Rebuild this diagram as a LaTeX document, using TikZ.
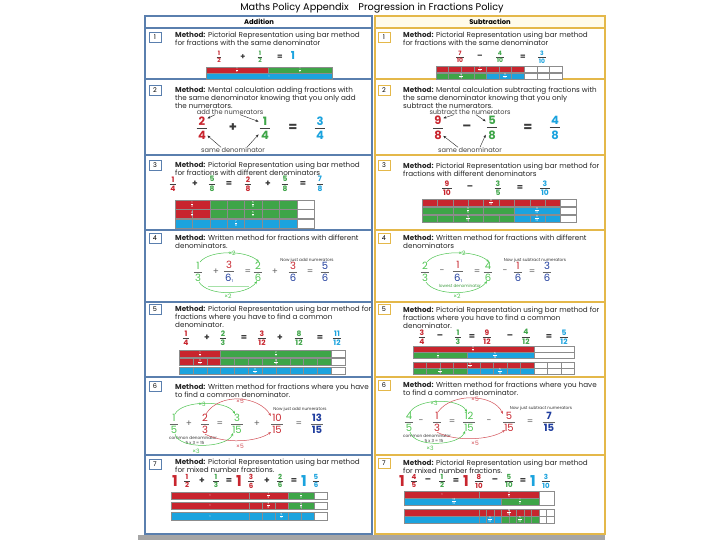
\documentclass[tikz,border=0pt]{standalone}
\usepackage{fontspec}
\setmainfont{Poppins}
\usetikzlibrary{arrows.meta}
\definecolor{fred}{HTML}{C8252E}
\definecolor{fgreen}{HTML}{3EA548}
\definecolor{fblue}{HTML}{1BA3DE}
\definecolor{fdblue}{HTML}{1F3D9E}
\definecolor{flgreen}{HTML}{4DC450}
\definecolor{lborder}{HTML}{5A7FAE}
\definecolor{rborder}{HTML}{E4B84A}
\definecolor{subfill}{HTML}{FFFBEA}
\definecolor{opgray}{HTML}{3A3A3A}
\newcommand\Fr[4]{\vbox{\offinterlineskip\halign{\hfil\kern0.12em##\kern0.12em\hfil\cr\textcolor{#1}{#2}\cr\noalign{\kern0.22em\hrule height0.07em\kern0.22em}\textcolor{#3}{#4}\cr}}}
\newcommand\blk[5]{\filldraw[fill=#5,draw=black!45,line width=0.25pt] (#1,#2) rectangle ++(#3,#4);}
\newcommand\segs[6]{\foreach \k in {1,...,#5}{\filldraw[fill=#6,draw=black!45,line width=0.25pt] ({#1+(\k-1)*(#3)},#2) rectangle ++(#3,#4);}}
\begin{document}
\begin{tikzpicture}[x=1pt,y=-1pt,
  cellL/.style={draw=lborder,line width=1.3pt},
  cellR/.style={draw=rborder,line width=1.3pt},
  numL/.style={draw=lborder,line width=0.7pt,minimum width=12pt,minimum height=10pt,inner sep=0pt,font=\fontsize{6.5}{6.5}\selectfont},
  numR/.style={numL,draw=rborder},
  meth/.style={anchor=north west,align=left,inner sep=0pt,font=\fontsize{7.2}{8}\selectfont,text=black!85},
  fr/.style={inner sep=0pt,text=black!75,font=\fontsize{#1}{#1}\selectfont\bfseries},
  hw/.style={inner sep=0pt,text=black!60,font=\fontsize{#1}{#1}\selectfont},
  opr/.style={inner sep=0pt,text=opgray,font=\fontsize{#1}{#1}\selectfont\bfseries},
  lbl/.style={inner sep=0pt,text=black!75,font=\fontsize{6.6}{7}\selectfont},
  tl/.style={inner sep=0pt,text=black!80,font=\fontsize{4.2}{4.5}\selectfont},
  barl/.style={inner sep=0pt,text=white,font=\fontsize{2.8}{3}\selectfont},
  arr/.style={-{Stealth[length=3pt,width=2.4pt]},line width=0.4pt,black!85},
  garr/.style={-{Stealth[length=3pt,width=2.4pt]},line width=0.5pt,flgreen},
  rarr/.style={-{Stealth[length=3pt,width=2.4pt]},line width=0.5pt,fred!80},
]
\useasboundingbox (0,0) rectangle (720,540);
\fill[white] (0,0) rectangle (720,540);
% title and headers
\node[inner sep=0pt,font=\fontsize{9.7}{10}\selectfont] (title) at (372,8) {Maths Policy Appendix\quad Progression in Fractions Policy};
\draw[cellL] (145,16) rectangle (372,28);
\filldraw[cellR,fill=subfill] (375,16) rectangle (605,28);
\node[inner sep=0pt,font=\fontsize{6.8}{7}\selectfont\bfseries] (hadd) at (259,22) {Addition};
\node[inner sep=0pt,font=\fontsize{6.8}{7}\selectfont\bfseries] (hsub) at (490,22) {Subtraction};
% cells
\foreach \a/\b in {28/79,79/155,155/230,230/302,302/377,377/455,455/534}{
  \draw[cellL] (145,\a) rectangle (372,\b);
  \draw[cellR] (375,\a) rectangle (605,\b);
}
\fill[black!35] (138,535) rectangle (605,540);
% number boxes
\node[numL] (nL1) at (155,37) {1};
\node[numL] (nL2) at (155,90) {2};
\node[numL] (nL3) at (155,165) {3};
\node[numL] (nL4) at (155,238) {4};
\node[numL] (nL5) at (155,309) {5};
\node[numL] (nL6) at (155,386) {6};
\node[numL] (nL7) at (155,464) {7};
\node[numR] (nR1) at (384,37) {1};
\node[numR] (nR2) at (384,90) {2};
\node[numR] (nR3) at (384,165) {3};
\node[numR] (nR4) at (384,238) {4};
\node[numR] (nR5) at (384,309) {5};
\node[numR] (nR6) at (384,385) {6};
\node[numR] (nR7) at (384,463) {7};
% method texts
\node[meth] (mL1) at (175,31.5) {\textbf{Method:} Pictorial Representation using bar method\\for fractions with the same denominator};
\node[meth] (mR1) at (403,31.5) {\textbf{Method:} Pictorial Representation using bar method\\for fractions with the same denominator};
\node[meth] (mL2) at (175,87) {\textbf{Method:} Mental calculation adding fractions with\\the same denominator knowing that you only add\\the numerators.};
\node[meth] (mR2) at (403,86.5) {\textbf{Method:} Mental calculation subtracting fractions with\\the same denominator knowing that you only\\subtract the numerators.};
\node[meth] (mL3) at (175,161.5) {\textbf{Method:} Pictorial Representation using bar method\\for fractions with different denominators};
\node[meth] (mR3) at (403,162.5) {\textbf{Method:} Pictorial Representation using bar method for\\fractions with different denominators};
\node[meth] (mL4) at (175,234.5) {\textbf{Method:} Written method for fractions with different\\denominators.};
\node[meth] (mR4) at (403,234.5) {\textbf{Method:} Written method for fractions with different\\denominators};
\node[meth] (mL5) at (175,305.5) {\textbf{Method:} Pictorial Representation using bar method for\\fractions where you have to find a common\\denominator.};
\node[meth] (mR5) at (403,306.5) {\textbf{Method:} Pictorial Representation using bar method for\\fractions where you have to find a common\\denominator.};
\node[meth] (mL6) at (175,383.5) {\textbf{Method:} Written method for fractions where you have\\to find a common denominator.};
\node[meth] (mR6) at (403,381.5) {\textbf{Method:} Written method for fractions where you have\\to find a common denominator.};
\node[meth] (mL7) at (175,458.5) {\textbf{Method:} Pictorial Representation using bar method\\for mixed number fractions.};
\node[meth] (mR7) at (403,459.5) {\textbf{Method:} Pictorial Representation using bar method\\for mixed number fractions.};

% ===== Row 1 left
\node[fr=6] (l1a) at (219,57) {\Fr{fred}{1}{fred}{2}};
\node[opr=8] (l1p) at (243,57) {+};
\node[fr=6] (l1b) at (260,57) {\Fr{fgreen}{1}{fgreen}{2}};
\node[opr=8] (l1e) at (280,57) {=};
\node[opr=11,text=fblue] (l1c) at (293,55) {1};
\blk{206}{67}{62}{6}{fred}
\blk{268}{67}{64}{6}{fgreen}
\blk{206}{73.5}{126}{6}{fblue}
\node[barl] (l1ba) at (237,70) {\Fr{white}{1}{white}{2}};
\node[barl] (l1bb) at (300,70) {\Fr{white}{1}{white}{2}};
\node[barl] (l1bc) at (269,76.5) {1};
% ===== Row 1 right
\node[fr=6] (r1a) at (460,57) {\Fr{fred}{7}{fred}{10}};
\node[opr=8] (r1m) at (480,57) {–};
\node[fr=6] (r1b) at (500,57) {\Fr{fgreen}{4}{fgreen}{10}};
\node[opr=8] (r1e) at (523,57) {=};
\node[fr=6] (r1c) at (542,57) {\Fr{fblue}{3}{fblue}{10}};
\segs{436}{66}{12.6}{6}{7}{fred}
\segs{524.2}{66}{12.6}{6}{3}{white}
\segs{436}{73}{12.6}{6}{4}{fgreen}
\segs{486.4}{73}{12.6}{6}{3}{fblue}
\segs{524.2}{73}{12.6}{6}{3}{white}
\node[barl] (r1ba) at (480,69) {\Fr{white}{7}{white}{10}};
\node[barl] (r1bb) at (461,76) {\Fr{white}{4}{white}{10}};
\node[barl] (r1bc) at (505,76) {\Fr{white}{3}{white}{10}};

% ===== Row 2 left
\node[lbl] (l2t) at (230,112) {add the numerators};
\node[fr=11.5] (l2a) at (202,128) {\Fr{fred}{2}{fred}{4}};
\node[opr=13] (l2p) at (233,128) {+};
\node[fr=11.5] (l2b) at (265,128) {\Fr{fgreen}{1}{fgreen}{4}};
\node[opr=13] (l2e) at (293,128) {=};
\node[fr=11.5] (l2c) at (320,128) {\Fr{fblue}{3}{fblue}{4}};
\node[lbl] (l2s) at (233,150) {same denominator};
\draw[arr] ([xshift=-15pt]l2t.south) -- ([xshift=0pt,yshift=-2pt]l2a.north east);
\draw[arr] ([xshift=10pt]l2t.south) -- ([xshift=-1pt,yshift=-5pt]l2b.north west);
\draw[arr] ([xshift=-12pt]l2s.north) -- ([xshift=0pt,yshift=4pt]l2a.south east);
\draw[arr] ([xshift=14pt]l2s.north) -- ([xshift=-1pt,yshift=5pt]l2b.south west);
% ===== Row 2 right
\node[lbl] (r2t) at (470,112) {subtract the numerators};
\node[fr=11.5] (r2a) at (438,128) {\Fr{fred}{9}{fred}{8}};
\node[opr=13] (r2m) at (467,128) {–};
\node[fr=11.5] (r2b) at (492,128) {\Fr{fgreen}{5}{fgreen}{8}};
\node[opr=13] (r2e) at (528,128) {=};
\node[fr=11.5] (r2c) at (555,128) {\Fr{fblue}{4}{fblue}{8}};
\node[lbl] (r2s) at (470,150) {same denominator};
\draw[arr] ([xshift=-16pt]r2t.south) -- ([xshift=0pt,yshift=-2pt]r2a.north east);
\draw[arr] ([xshift=6pt]r2t.south) -- ([xshift=-1pt,yshift=-5pt]r2b.north west);
\draw[arr] ([xshift=-12pt]r2s.north) -- ([xshift=0pt,yshift=4pt]r2a.south east);
\draw[arr] ([xshift=10pt]r2s.north) -- ([xshift=-1pt,yshift=5pt]r2b.south west);

% ===== Row 3 left
\node[fr=7.5] (l3a) at (173,184) {\Fr{fred}{1}{fred}{4}};
\node[opr=9] (l3p1) at (195,184) {+};
\node[fr=7.5] (l3b) at (212,184) {\Fr{fgreen}{5}{fgreen}{8}};
\node[opr=9] (l3e1) at (229,184) {=};
\node[fr=7.5] (l3c) at (248,184) {\Fr{fred}{2}{fred}{8}};
\node[opr=9] (l3p2) at (268,184) {+};
\node[fr=7.5] (l3d) at (285,184) {\Fr{fgreen}{5}{fgreen}{8}};
\node[opr=9] (l3e2) at (303,184) {=};
\node[fr=7.5] (l3f) at (320,184) {\Fr{fblue}{7}{fblue}{8}};
\blk{175}{200}{34.8}{9}{fred}
\segs{209.8}{200}{17.4}{9}{5}{fgreen}
\segs{296.8}{200}{17.4}{9}{1}{white}
\segs{175}{209.5}{17.4}{9}{2}{fred}
\segs{209.8}{209.5}{17.4}{9}{5}{fgreen}
\segs{296.8}{209.5}{17.4}{9}{1}{white}
\segs{175}{219}{17.4}{9}{7}{fblue}
\segs{296.8}{219}{17.4}{9}{1}{white}
\node[barl] (l3ba) at (192,204.5) {\Fr{white}{1}{white}{4}};
\node[barl] (l3bb) at (253,204.5) {\Fr{white}{5}{white}{8}};
\node[barl] (l3bc) at (192,214) {\Fr{white}{2}{white}{8}};
\node[barl] (l3bd) at (253,214) {\Fr{white}{5}{white}{8}};
\node[barl] (l3be) at (236,223.5) {\Fr{white}{7}{white}{8}};
% ===== Row 3 right
\node[fr=7.5] (r3a) at (447,188) {\Fr{fred}{9}{fred}{10}};
\node[opr=9] (r3m) at (470,188) {–};
\node[fr=7.5] (r3b) at (498,188) {\Fr{fgreen}{3}{fgreen}{5}};
\node[opr=9] (r3e) at (520,188) {=};
\node[fr=7.5] (r3c) at (545,188) {\Fr{fblue}{3}{fblue}{10}};
\segs{422}{199}{15.4}{7}{9}{fred}
\segs{560.6}{199}{15.4}{7}{1}{white}
\segs{422}{207}{30.8}{7}{3}{fgreen}
\blk{514.4}{207}{46.2}{7}{fblue}
\segs{560.6}{207}{15.4}{7}{1}{white}
\segs{422}{215}{15.4}{7}{6}{fgreen}
\segs{514.4}{215}{15.4}{7}{3}{fblue}
\segs{560.6}{215}{15.4}{7}{1}{white}
\node[barl] (r3ba) at (491,202.5) {\Fr{white}{9}{white}{10}};
\node[barl] (r3bb) at (468,210.5) {\Fr{white}{3}{white}{5}};
\node[barl] (r3bc) at (537,210.5) {\Fr{white}{3}{white}{10}};
\node[barl] (r3bd) at (468,218.5) {\Fr{white}{6}{white}{10}};
\node[barl] (r3be) at (537,218.5) {\Fr{white}{3}{white}{10}};

% ===== Row 4 left
\node[hw=10] (l4a) at (198,272) {\Fr{flgreen}{1}{flgreen}{3}};
\node[hw=9] (l4p1) at (216,272) {+};
\node[hw=10] (l4b) at (229,272) {\Fr{fred}{3}{fdblue}{6\raisebox{-1.5pt}{\fontsize{4}{4}\selectfont 1}}};
\node[hw=9] (l4e1) at (248,272) {=};
\node[hw=10] (l4c) at (258,272) {\Fr{flgreen}{2}{flgreen}{6}};
\node[hw=9] (l4p2) at (275,272) {+};
\node[hw=10] (l4d) at (293,272) {\Fr{fred}{3}{fdblue}{6}};
\node[hw=9] (l4e2) at (310,272) {=};
\node[hw=10] (l4f) at (325,272) {\Fr{fdblue}{5}{fdblue}{6}};
\node[hw=6,text=flgreen] (l4x1) at (232,253) {×2};
\node[hw=6,text=flgreen] (l4x2) at (228,296) {×2};
\node[tl] (l4n) at (307,260) {Now just add numerators};
\draw[garr] ([xshift=2pt]l4a.north) .. controls ([xshift=12pt,yshift=12pt]l4a.north) and ([xshift=-12pt,yshift=12pt]l4c.north) .. ([xshift=1pt]l4c.north);
\draw[garr] ([xshift=1pt]l4a.south) .. controls ([xshift=10pt,yshift=-14pt]l4a.south) and ([xshift=-12pt,yshift=-14pt]l4c.south) .. ([xshift=-1pt,yshift=1pt]l4c.south);
\draw[flgreen!50,line width=0.5pt] (208,286) -- (249,286);
% ===== Row 4 right
\node[hw=10] (r4a) at (425,272) {\Fr{flgreen}{2}{flgreen}{3}};
\node[hw=9] (r4m1) at (442,272) {-};
\node[hw=10] (r4b) at (458,272) {\Fr{fred}{1}{fdblue}{6\raisebox{-1.5pt}{\fontsize{4}{4}\selectfont 1}}};
\node[hw=9] (r4e1) at (477,272) {=};
\node[hw=10] (r4c) at (488,272) {\Fr{flgreen}{4}{flgreen}{6}};
\node[hw=9] (r4m2) at (505,272) {-};
\node[hw=10] (r4d) at (518,272) {\Fr{fred}{1}{fdblue}{6}};
\node[hw=9] (r4e2) at (532,272) {=};
\node[hw=10] (r4f) at (547,272) {\Fr{fdblue}{3}{fdblue}{6}};
\node[hw=6,text=flgreen] (r4x1) at (462,253) {×2};
\node[hw=6,text=flgreen] (r4x2) at (457,296) {×2};
\node[tl,text=flgreen!80!black] (r4ld) at (460,286) {lowest denominator};
\node[tl] (r4n) at (535,260) {Now just subtract numerators};
\draw[garr] ([xshift=2pt]r4a.north) .. controls ([xshift=12pt,yshift=12pt]r4a.north) and ([xshift=-12pt,yshift=12pt]r4c.north) .. ([xshift=1pt]r4c.north);
\draw[garr] ([xshift=1pt]r4a.south) .. controls ([xshift=10pt,yshift=-14pt]r4a.south) and ([xshift=-12pt,yshift=-14pt]r4c.south) .. ([xshift=-1pt,yshift=1pt]r4c.south);

% ===== Row 5 left
\node[fr=7.5] (l5a) at (186,338) {\Fr{fred}{1}{fred}{4}};
\node[opr=9] (l5p1) at (207,338) {+};
\node[fr=7.5] (l5b) at (223,338) {\Fr{fgreen}{2}{fgreen}{3}};
\node[opr=9] (l5e1) at (244,338) {=};
\node[fr=7.5] (l5c) at (262,338) {\Fr{fred}{3}{fred}{12}};
\node[opr=9] (l5p2) at (280,338) {+};
\node[fr=7.5] (l5d) at (299,338) {\Fr{fgreen}{8}{fgreen}{12}};
\node[opr=9] (l5e2) at (320,338) {=};
\node[fr=7.5] (l5f) at (337,338) {\Fr{fblue}{11}{fblue}{12}};
\blk{179}{350}{41.5}{7.5}{fred}
\blk{220.5}{350}{110.6}{7.5}{fgreen}
\segs{331.1}{350}{13.83}{7.5}{1}{white}
\segs{179}{358}{13.83}{7.5}{3}{fred}
\segs{220.5}{358}{13.83}{7.5}{8}{fgreen}
\segs{331.1}{358}{13.83}{7.5}{1}{white}
\segs{179}{367}{13.83}{7.5}{11}{fblue}
\segs{331.1}{367}{13.83}{7.5}{1}{white}
\node[barl] (l5ba) at (200,353.75) {\Fr{white}{1}{white}{4}};
\node[barl] (l5bb) at (276,353.75) {\Fr{white}{2}{white}{3}};
\node[barl] (l5bc) at (200,361.75) {\Fr{white}{3}{white}{12}};
\node[barl] (l5bd) at (276,361.75) {\Fr{white}{8}{white}{12}};
\node[barl] (l5be) at (255,370.75) {\Fr{white}{11}{white}{12}};
% ===== Row 5 right
\node[fr=7.5] (r5a) at (422,337) {\Fr{fred}{3}{fred}{4}};
\node[opr=9] (r5m1) at (440,337) {–};
\node[fr=7.5] (r5b) at (458,337) {\Fr{fgreen}{1}{fgreen}{3}};
\node[opr=9] (r5e1) at (472,337) {=};
\node[fr=7.5] (r5c) at (487,337) {\Fr{fred}{9}{fred}{12}};
\node[opr=9] (r5m2) at (510,337) {–};
\node[fr=7.5] (r5d) at (526,337) {\Fr{fgreen}{4}{fgreen}{12}};
\node[opr=9] (r5e2) at (549,337) {=};
\node[fr=7.5] (r5f) at (564,337) {\Fr{fblue}{5}{fblue}{12}};
\blk{413}{346}{120.8}{6}{fred}
\blk{533.8}{346}{40.2}{6}{white}
\blk{413}{352}{53.7}{6.5}{fgreen}
\blk{466.7}{352}{67.1}{6.5}{fblue}
\blk{533.8}{352}{40.2}{6.5}{white}
\segs{413}{362}{13.42}{6}{9}{fred}
\segs{533.8}{362}{13.42}{6}{3}{white}
\segs{413}{368}{13.42}{6.5}{4}{fgreen}
\segs{466.7}{368}{13.42}{6.5}{5}{fblue}
\segs{533.8}{368}{13.42}{6.5}{3}{white}
\node[barl] (r5ba) at (473,349) {\Fr{white}{3}{white}{4}};
\node[barl] (r5bb) at (438,355.25) {\Fr{white}{1}{white}{3}};
\node[barl] (r5bc) at (495,355.25) {\Fr{white}{5}{white}{12}};
\node[barl] (r5bd) at (470,365) {\Fr{white}{9}{white}{12}};
\node[barl] (r5be) at (440,371.25) {\Fr{white}{4}{white}{12}};
\node[barl] (r5bf) at (500,371.25) {\Fr{white}{5}{white}{12}};

% ===== Row 6 left
\node[hw=10] (l6a) at (174,424) {\Fr{flgreen}{1}{flgreen}{5}};
\node[hw=9] (l6p1) at (189,424) {+};
\node[hw=10] (l6b) at (205,424) {\Fr{fred}{2}{fred}{3}};
\node[hw=9] (l6e1) at (220,424) {=};
\node[hw=10] (l6c) at (237,424) {\Fr{flgreen}{3}{flgreen}{15}};
\node[hw=9] (l6p2) at (257,424) {+};
\node[hw=10] (l6d) at (277,424) {\Fr{fred}{10}{fred}{15}};
\node[hw=9] (l6e2) at (299,424) {=};
\node[hw=10,font=\fontsize{10}{10}\selectfont\bfseries] (l6f) at (317,424) {\Fr{fdblue}{13}{fdblue}{15}};
\node[hw=6,text=flgreen] (l6x1) at (202,404) {×3};
\node[hw=6,text=fred!80] (l6x2) at (240,401) {×5};
\node[tl] (l6n) at (300,409) {Now just add numerators};
\node[tl] (l6cd) at (193,438) {common denominator};
\node[tl] (l6cm) at (195,443) {5 x 3 = 15};
\node[hw=6,text=flgreen] (l6x3) at (196,451) {×3};
\node[hw=6,text=fred!80] (l6x4) at (240,446) {×5};
\draw[garr] ([xshift=1pt]l6a.north) .. controls ([xshift=8pt,yshift=14pt]l6a.north) and ([xshift=-10pt,yshift=14pt]l6c.north) .. ([xshift=-2pt]l6c.north);
\draw[rarr] ([xshift=1pt]l6b.north) .. controls ([xshift=15pt,yshift=22pt]l6b.north) and ([xshift=-18pt,yshift=18pt]l6d.north) .. ([yshift=-2pt]l6d.north west);
\draw[garr] ([xshift=1pt]l6a.south) .. controls ([xshift=5pt,yshift=-16pt]l6a.south) and ([xshift=-10pt,yshift=-14pt]l6c.south) .. ([xshift=-4pt,yshift=1pt]l6c.south);
\draw[rarr] (l6b.south) .. controls ([xshift=20pt,yshift=-10pt]l6b.south) and ([xshift=-20pt,yshift=-8pt]l6d.south) .. ([xshift=-6pt,yshift=2pt]l6d.south);
% ===== Row 6 right
\node[hw=10] (r6a) at (409,422) {\Fr{flgreen}{4}{flgreen}{5}};
\node[hw=9] (r6m1) at (421,422) {-};
\node[hw=10] (r6b) at (437,422) {\Fr{fred}{1}{fred}{3}};
\node[hw=9] (r6e1) at (452,422) {=};
\node[hw=10] (r6c) at (469,422) {\Fr{flgreen}{12}{flgreen}{15}};
\node[hw=9] (r6m2) at (489,422) {-};
\node[hw=10] (r6d) at (509,422) {\Fr{fred}{5}{fred}{15}};
\node[hw=9] (r6e2) at (530,422) {=};
\node[hw=10,font=\fontsize{10}{10}\selectfont\bfseries] (r6f) at (549,422) {\Fr{fdblue}{7}{fdblue}{15}};
\node[hw=6,text=flgreen] (r6x1) at (434,403) {×3};
\node[hw=6,text=fred!80] (r6x2) at (475,399) {×5};
\node[tl] (r6n) at (541,408) {Now just subtract numerators};
\node[tl] (r6cd) at (427,436) {common denominator};
\node[tl] (r6cm) at (434,441) {5 x 3 = 15};
\node[hw=6,text=flgreen] (r6x3) at (430,448) {×3};
\node[hw=6,text=fred!80] (r6x4) at (475,443) {×5};
\draw[garr] ([xshift=1pt]r6a.north) .. controls ([xshift=10pt,yshift=14pt]r6a.north) and ([xshift=-10pt,yshift=14pt]r6c.north) .. ([xshift=-2pt]r6c.north);
\draw[rarr] ([xshift=1pt]r6b.north) .. controls ([xshift=15pt,yshift=20pt]r6b.north) and ([xshift=-15pt,yshift=18pt]r6d.north) .. ([yshift=-2pt]r6d.north west);
\draw[garr] ([xshift=1pt]r6a.south) .. controls ([xshift=5pt,yshift=-16pt]r6a.south) and ([xshift=-10pt,yshift=-14pt]r6c.south) .. ([xshift=-4pt,yshift=1pt]r6c.south);
\draw[rarr] (r6b.south) .. controls ([xshift=18pt,yshift=-10pt]r6b.south) and ([xshift=-18pt,yshift=-8pt]r6d.south) .. ([xshift=-4pt,yshift=2pt]r6d.south);

% ===== Row 7 left
\node[opr=15,text=fred] (l7w1) at (175,481) {1};
\node[fr=7] (l7a) at (187,481) {\Fr{fred}{1}{fred}{2}};
\node[opr=9] (l7p1) at (202,481) {+};
\node[fr=7] (l7b) at (216,481) {\Fr{fgreen}{1}{fgreen}{3}};
\node[opr=9] (l7e1) at (229,481) {=};
\node[opr=15,text=fred] (l7w2) at (239,481) {1};
\node[fr=7] (l7c) at (251,481) {\Fr{fred}{3}{fred}{6}};
\node[opr=9] (l7p2) at (267,481) {+};
\node[fr=7] (l7d) at (280,481) {\Fr{fgreen}{2}{fgreen}{6}};
\node[opr=9] (l7e2) at (294,481) {=};
\node[opr=15,text=fblue] (l7w3) at (304,481) {1};
\node[fr=7] (l7f) at (316,481) {\Fr{fblue}{5}{fblue}{6}};
\blk{171}{492}{78}{7}{fred}
\blk{249}{492}{39}{7}{fred}
\blk{288}{492}{26}{7}{fgreen}
\blk{314}{492}{13}{7}{white}
\blk{171}{502}{78}{7}{fred}
\segs{249}{502}{13}{7}{3}{fred}
\segs{288}{502}{13}{7}{2}{fgreen}
\segs{314}{502}{13}{7}{1}{white}
\blk{171}{512}{78}{8}{fblue}
\segs{249}{512}{13}{8}{5}{fblue}
\segs{314}{512}{13}{8}{1}{white}
\node[barl] (l7ba) at (210,495.5) {1};
\node[barl] (l7bb) at (268.5,495.5) {\Fr{white}{1}{white}{2}};
\node[barl] (l7bc) at (301,495.5) {\Fr{white}{1}{white}{3}};
\node[barl] (l7bd) at (210,505.5) {1};
\node[barl] (l7be) at (268.5,505.5) {\Fr{white}{3}{white}{6}};
\node[barl] (l7bf) at (301,505.5) {\Fr{white}{2}{white}{6}};
\node[barl] (l7bg) at (210,516) {1};
\node[barl] (l7bh) at (281.5,516) {\Fr{white}{5}{white}{6}};
% ===== Row 7 right
\node[opr=15,text=fred] (r7w1) at (402,481) {1};
\node[fr=7] (r7a) at (414,481) {\Fr{fred}{4}{fred}{5}};
\node[opr=9] (r7m1) at (428,481) {–};
\node[fr=7] (r7b) at (442,481) {\Fr{fgreen}{1}{fgreen}{2}};
\node[opr=9] (r7e1) at (456,481) {=};
\node[opr=15,text=fred] (r7w2) at (466,481) {1};
\node[fr=7] (r7c) at (479,481) {\Fr{fred}{8}{fred}{10}};
\node[opr=9] (r7m2) at (495,481) {–};
\node[fr=7] (r7d) at (509,481) {\Fr{fgreen}{5}{fgreen}{10}};
\node[opr=9] (r7e2) at (523,481) {=};
\node[opr=15,text=fblue] (r7w3) at (533,481) {1};
\node[fr=7] (r7f) at (546,481) {\Fr{fblue}{3}{fblue}{10}};
\blk{404}{491}{75}{7}{fred}
\blk{479}{491}{60}{7}{fred}
\blk{539}{491}{15}{14}{white}
\blk{404}{498}{97.5}{7}{fblue}
\blk{501.5}{498}{37.5}{7}{fgreen}
\blk{404}{509}{75}{7}{fred}
\segs{479}{509}{7.5}{7}{8}{fred}
\segs{539}{509}{7.5}{7}{2}{white}
\blk{404}{516}{75}{7}{fblue}
\segs{479}{516}{7.5}{7}{3}{fblue}
\segs{501.5}{516}{7.5}{7}{5}{fgreen}
\segs{539}{516}{7.5}{7}{2}{white}
\node[barl] (r7ba) at (442,494.5) {1};
\node[barl] (r7bb) at (509,494.5) {\Fr{white}{4}{white}{5}};
\node[barl] (r7bc) at (454,501.5) {\Fr{white}{13}{white}{10}};
\node[barl] (r7bd) at (520,501.5) {\Fr{white}{1}{white}{2}};
\node[barl] (r7be) at (509,512.5) {\Fr{white}{8}{white}{10}};
\node[barl] (r7bf) at (490,519.5) {\Fr{white}{3}{white}{10}};
\node[barl] (r7bg) at (520,519.5) {\Fr{white}{5}{white}{10}};
\end{tikzpicture}
\end{document}
